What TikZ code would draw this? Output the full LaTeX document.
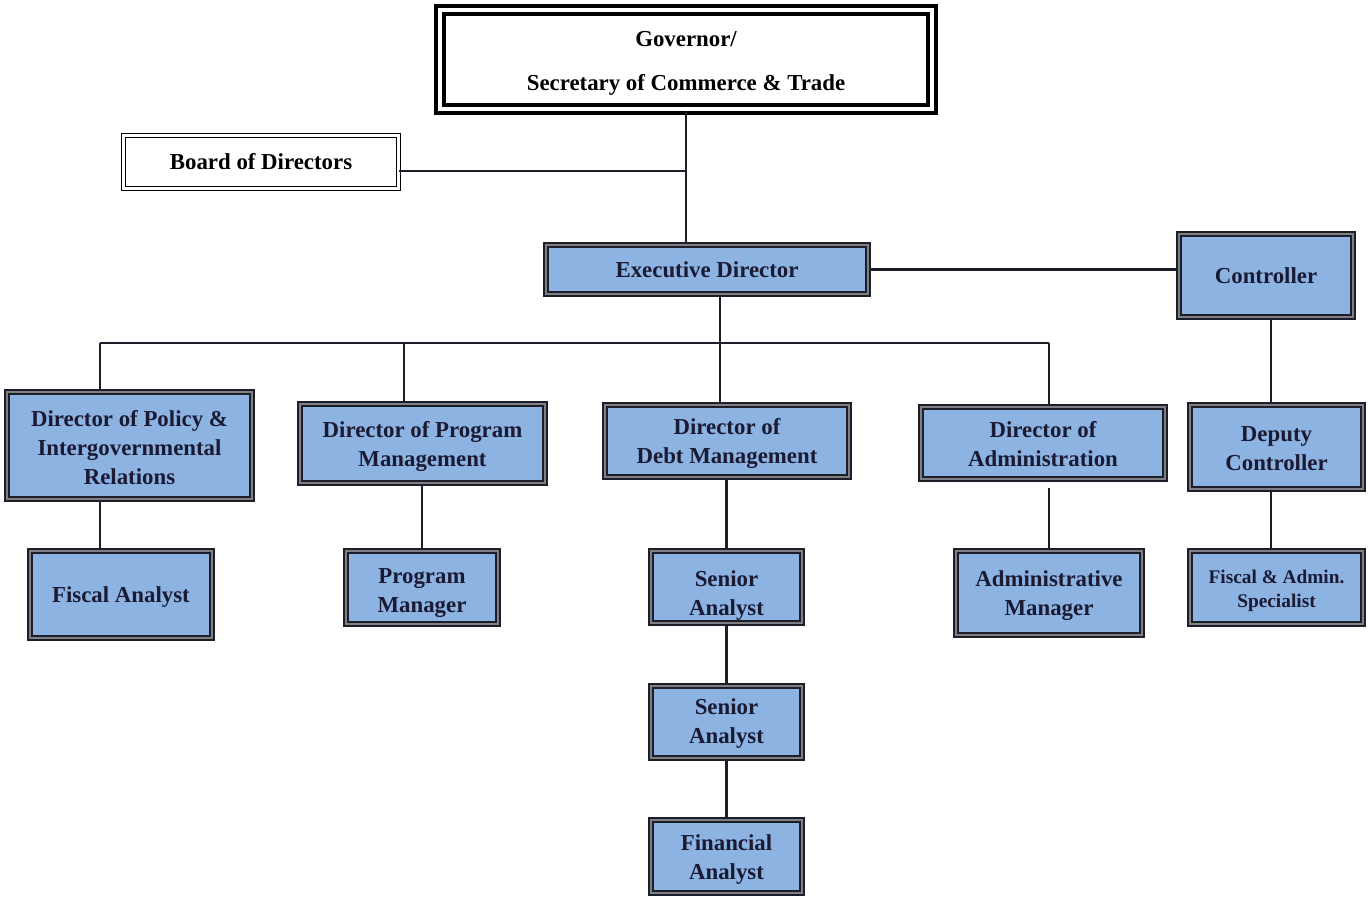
\documentclass[tikz,border=0pt]{standalone}
\usepackage{fontspec}
\setmainfont{Liberation Serif}
\definecolor{boxblue}{HTML}{8DB3E2}
\definecolor{ink}{HTML}{1A1A33}
\definecolor{edge}{HTML}{1E1E28}
\definecolor{gapgray}{HTML}{7F7F86}
\newcommand\tdn[1]{\rule{0pt}{#1}}
\begin{document}
\begin{tikzpicture}[x=0.02cm,y=-0.02cm,
  sz/.style 2 args={minimum width={#1*0.02cm}, minimum height={#2*0.02cm}},
  bluebox/.style={rectangle, draw=edge, line width=1.1pt, double=gapgray, double distance=1.1pt,
    fill=boxblue, text=ink, align=center, inner sep=0pt,
    font=\bfseries\fontsize{13}{16.5}\selectfont},
  whitebox/.style={rectangle, draw=black, line width=1pt, double=white, double distance=1.2pt,
    fill=white, text=black, align=center, inner sep=0pt,
    font=\bfseries\fontsize{13}{16.5}\selectfont},
  govbox/.style={rectangle, draw=black, line width=2.2pt, double=white, double distance=2pt,
    fill=white, text=black, align=center, inner sep=0pt,
    font=\bfseries\fontsize{13}{16.5}\selectfont},
  conn/.style={draw=edge, line width=1.2pt}]
\useasboundingbox (0,0) rectangle (1368,900);

% boxes
\node[govbox, sz={492}{99}] (gov) at (686,59.5) {\tdn{13.5pt}Governor/\\[8.5pt]Secretary of Commerce \& Trade};
\node[whitebox, sz={275}{53}] (board) at (261,162) {Board of Directors};
\node[bluebox, sz={322}{49}] (exec) at (707,269.5) {Executive Director};
\node[bluebox, sz={174}{83}] (ctrl) at (1266,275.5) {Controller};
\node[bluebox, sz={245}{107}] (policy) at (129.5,445.5) {\tdn{12pt}Director of Policy \&\\Intergovernmental\\Relations};
\node[bluebox, sz={245}{79}] (prog) at (422.5,443.5) {\tdn{12.5pt}Director of Program\\Management};
\node[bluebox, sz={244}{72}] (debt) at (727,441) {\tdn{12.5pt}Director of\\Debt Management};
\node[bluebox, sz={244}{72}] (admin) at (1043,443) {\tdn{10.5pt}Director of\\Administration};
\node[bluebox, sz={173}{84}] (dep) at (1276.5,447) {\tdn{10.5pt}Deputy\\Controller};
\node[bluebox, sz={182}{87}] (fiscal) at (121,594.5) {\tdn{12pt}Fiscal Analyst};
\node[bluebox, sz={152}{73}] (pm) at (422,587.5) {\tdn{14.5pt}Program\\Manager};
\node[bluebox, sz={151}{72}] (sa1) at (726.5,587) {\tdn{19pt}Senior\\Analyst};
\node[bluebox, sz={186}{84}] (admm) at (1049,593) {\tdn{12pt}Administrative\\Manager};
\node[bluebox, sz={173}{73}, font=\bfseries\fontsize{11}{13.6}\selectfont] (fas) at (1276.5,587.5) {\tdn{11pt}Fiscal \& Admin.\\Specialist};
\node[bluebox, sz={151}{72}] (sa2) at (726.5,722) {\tdn{10.5pt}Senior\\Analyst};
\node[bluebox, sz={151}{73}] (fin) at (726.5,856.5) {\tdn{12.5pt}Financial\\Analyst};

% junction coordinates
\coordinate (ej) at (720,343);
\coordinate (b1) at (100,343);
\coordinate (b2) at (404,343);
\coordinate (b4) at (1049,343);
\coordinate (c1) at (1271,300);

% connectors
\draw[conn] (gov.south) -- (gov.south |- exec.north);
\draw[conn] ([yshift=-0.18cm]board.east) -- ([yshift=-0.18cm]board.east -| gov.south);
\draw[conn] (exec.east) -- (exec.east -| ctrl.west);
\draw[conn] (ej |- exec.south) -- (ej |- debt.north);
\draw[conn] (b1) -- (b4);
\draw[conn] (b1) -- (b1 |- policy.north);
\draw[conn] (b2) -- (b2 |- prog.north);
\draw[conn] (b4) -- (b4 |- admin.north);
\draw[conn] (b1 |- policy.south) -- (b1 |- fiscal.north);
\draw[conn] (pm.north |- prog.south) -- (pm.north);
\draw[conn] (sa1.north |- debt.south) -- (sa1.north);
\draw[conn] (sa1.south) -- (sa2.north);
\draw[conn] (sa2.south) -- (fin.north);
\draw[conn] ([yshift=-0.16cm]b4 |- admin.south) -- (b4 |- admm.north);
\draw[conn] (c1 |- ctrl.south) -- (c1 |- dep.north);
\draw[conn] (c1 |- dep.south) -- (c1 |- fas.north);
\end{tikzpicture}
\end{document}
